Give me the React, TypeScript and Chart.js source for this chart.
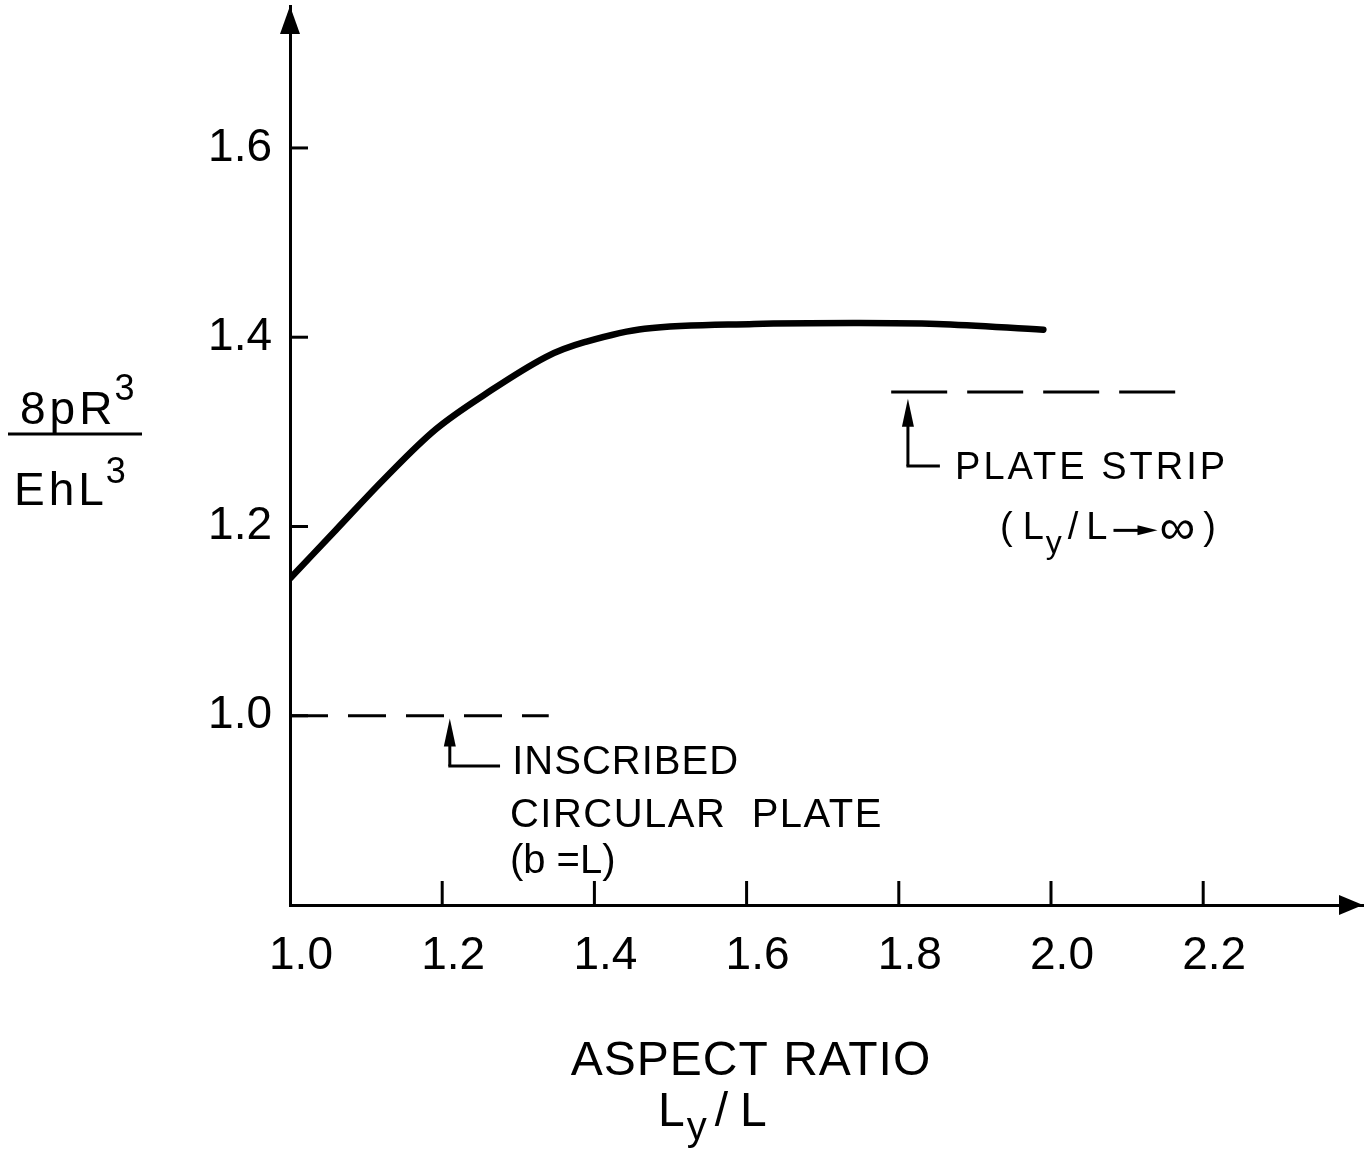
import React, { useEffect, useRef } from 'react';
import { Chart, registerables } from 'chart.js';

Chart.register(...registerables);

// ---- data ----
const curveX = [1.0, 1.06, 1.126, 1.192, 1.257, 1.336, 1.388, 1.466, 1.61, 1.74, 1.85, 1.99];
const curveY = [1.145, 1.196, 1.252, 1.303, 1.34, 1.379, 1.395, 1.409, 1.414, 1.415, 1.414, 1.408];

const stripX = [1.79, 2.165];
const stripY = [1.342, 1.342];

const circleX = [1.0, 1.34];
const circleY = [1.0, 1.0];

const xTicks = [1.0, 1.2, 1.4, 1.6, 1.8, 2.0, 2.2];
const xTickLabels = ['1.0', '1.2', '1.4', '1.6', '1.8', '2.0', '2.2'];
const yTicks = [1.0, 1.2, 1.4, 1.6];
const yTickLabels = ['1.0', '1.2', '1.4', '1.6'];

const X_MIN = 1.0;
const X_MAX = 2.41;
const Y_MIN = 0.8;
const Y_MAX = 1.75;

const FONT = "'Liberation Sans', Arial, 'DejaVu Sans', sans-serif";

const toPts = (xs: number[], ys: number[]) => xs.map((v, i) => ({ x: v, y: ys[i] }));

function arrowHead(ctx: CanvasRenderingContext2D, tipX: number, tipY: number, dir: 'up' | 'right', len: number, half: number) {
  ctx.beginPath();
  if (dir === 'up') {
    ctx.moveTo(tipX, tipY);
    ctx.lineTo(tipX - half, tipY + len);
    ctx.lineTo(tipX + half, tipY + len);
  } else {
    ctx.moveTo(tipX, tipY);
    ctx.lineTo(tipX - len, tipY - half);
    ctx.lineTo(tipX - len, tipY + half);
  }
  ctx.closePath();
  ctx.fill();
}

function line(ctx: CanvasRenderingContext2D, x1: number, y1: number, x2: number, y2: number) {
  ctx.beginPath();
  ctx.moveTo(x1, y1);
  ctx.lineTo(x2, y2);
  ctx.stroke();
}

// draws pieces of text sequentially; returns end x
function runText(ctx: CanvasRenderingContext2D, x: number, y: number, parts: { t: string; size: number; dy?: number; gap?: number }[]) {
  let cx = x;
  for (const p of parts) {
    ctx.font = `${p.size}px ${FONT}`;
    cx += p.gap || 0;
    ctx.fillText(p.t, cx, y + (p.dy || 0));
    cx += ctx.measureText(p.t).width;
  }
  return cx;
}

const annotationPlugin = {
  id: 'annotations',
  afterDraw(chart: any) {
    const { ctx } = chart;
    const xs = chart.scales.x;
    const ys = chart.scales.y;
    const X = (v: number) => xs.getPixelForValue(v);
    const Y = (v: number) => ys.getPixelForValue(v);
    ctx.save();
    ctx.strokeStyle = '#000';
    ctx.fillStyle = '#000';
    ctx.lineCap = 'butt';

    // inner tick marks
    ctx.lineWidth = 3;
    yTicks.forEach((v) => line(ctx, X(X_MIN), Y(v), X(X_MIN) + 18, Y(v)));
    xTicks.slice(1).forEach((v) => line(ctx, X(v), Y(Y_MIN), X(v), Y(Y_MIN) - 24));

    // axis arrows
    arrowHead(ctx, X(X_MIN), Y(Y_MAX), 'up', 28, 10);
    arrowHead(ctx, X(X_MAX), Y(Y_MIN), 'right', 24, 10);

    // plate strip annotation arrow
    ctx.lineWidth = 3;
    const sx = X(1.812);
    line(ctx, sx, Y(1.264), sx, Y(1.335) + 24);
    line(ctx, sx - 1.5, Y(1.264), X(1.854), Y(1.264));
    arrowHead(ctx, sx, Y(1.335), 'up', 28, 6);

    // inscribed circular plate annotation arrow
    const cxp = X(1.21);
    line(ctx, cxp, Y(0.947), cxp, Y(0.997) + 24);
    line(ctx, cxp - 1.5, Y(0.947), X(1.276), Y(0.947));
    arrowHead(ctx, cxp, Y(0.997), 'up', 28, 6);

    ctx.textBaseline = 'middle';
    ctx.textAlign = 'left';

    // PLATE STRIP
    (ctx as any).letterSpacing = '3px';
    ctx.font = `38px ${FONT}`;
    ctx.fillText('PLATE STRIP', X(1.874), Y(1.261));
    // (Ly/L -> inf)
    (ctx as any).letterSpacing = '0px';
    let ex = runText(ctx, X(1.933), Y(1.198), [
      { t: '(', size: 38 },
      { t: 'L', size: 38, gap: 10 },
      { t: 'y', size: 32, dy: 16, gap: 2 },
      { t: '/', size: 38, gap: 6 },
      { t: 'L', size: 38, gap: 8 },
    ]);
    const ay = Y(1.198) + 2;
    ctx.lineWidth = 3;
    line(ctx, ex + 6, ay, ex + 34, ay);
    arrowHead(ctx, ex + 50, ay, 'right', 20, 5);
    ex = runText(ctx, ex + 50, Y(1.198) + 2, [
      { t: '∞', size: 50, gap: 2 },
    ]);
    runText(ctx, ex, Y(1.198), [{ t: ')', size: 38, gap: 8 }]);

    // INSCRIBED CIRCULAR PLATE (b =L)
    (ctx as any).letterSpacing = '1px';
    ctx.font = `40px ${FONT}`;
    ctx.fillText('INSCRIBED', X(1.292), Y(0.95));
    (ctx as any).letterSpacing = '1.5px';
    ctx.fillText('CIRCULAR  PLATE', X(1.289), Y(0.894));
    (ctx as any).letterSpacing = '0px';
    ctx.fillText('(b =L)', X(1.289), Y(0.845));

    // y-axis title as a fraction
    ctx.textBaseline = 'alphabetic';
    runText(ctx, 20, 424, [
      { t: '8', size: 46 },
      { t: 'p', size: 46, gap: 4 },
      { t: 'R', size: 46, gap: 4 },
      { t: '3', size: 36, dy: -24, gap: 2 },
    ]);
    ctx.lineWidth = 3;
    line(ctx, 8, 434, 142, 434);
    runText(ctx, 14, 505, [
      { t: 'E', size: 46 },
      { t: 'h', size: 46, gap: 4 },
      { t: 'L', size: 46, gap: 4 },
      { t: '3', size: 36, dy: -22, gap: 2 },
    ]);

    // x-axis title
    ctx.textAlign = 'center';
    (ctx as any).letterSpacing = '1px';
    ctx.font = `48px ${FONT}`;
    ctx.fillText('ASPECT RATIO', 751, 1075);
    (ctx as any).letterSpacing = '0px';
    ctx.textAlign = 'left';
    runText(ctx, 658, 1126, [
      { t: 'L', size: 48 },
      { t: 'y', size: 40, dy: 14, gap: 2 },
      { t: '/', size: 48, gap: 8 },
      { t: 'L', size: 48, gap: 12 },
    ]);

    ctx.restore();
  },
};

export default function App() {
  const canvasRef = useRef<HTMLCanvasElement | null>(null);

  useEffect(() => {
    const canvas = canvasRef.current;
    if (!canvas) return;
    const chart = new Chart(canvas, {
      type: 'line',
      data: {
        datasets: [
          {
            data: toPts(curveX, curveY),
            borderColor: '#000',
            borderWidth: 6.5,
            pointRadius: 0,
            fill: false,
            tension: 0.35,
            borderCapStyle: 'round',
          },
          {
            data: toPts(stripX, stripY),
            borderColor: '#000',
            borderWidth: 3,
            pointRadius: 0,
            fill: false,
            borderDash: [56, 20],
          },
          {
            data: toPts(circleX, circleY),
            borderColor: '#000',
            borderWidth: 3,
            pointRadius: 0,
            fill: false,
            borderDash: [38, 20],
          },
        ],
      },
      options: {
        responsive: false,
        animation: false,
        events: [],
        layout: { padding: { top: 6, right: 8, left: 0, bottom: 0 } },
        plugins: { legend: { display: false }, tooltip: { enabled: false } },
        scales: {
          x: {
            type: 'linear',
            min: X_MIN,
            max: X_MAX,
            afterBuildTicks: (s: any) => {
              s.ticks = xTicks.map((v) => ({ value: v }));
            },
            afterFit: (s: any) => {
              s.height = 252;
              s.paddingLeft = 0;
              s.paddingRight = 0;
            },
            ticks: {
              callback: (v: any) => xTickLabels[xTicks.indexOf(Number(v))] ?? '',
              font: { family: FONT, size: 46 },
              color: '#000',
              padding: 24,
              labelOffset: 11,
              maxRotation: 0,
              autoSkip: false,
            },
            grid: { display: false, drawTicks: false },
            border: { display: true, color: '#000', width: 3 },
          },
          y: {
            type: 'linear',
            min: Y_MIN,
            max: Y_MAX,
            afterBuildTicks: (s: any) => {
              s.ticks = yTicks.map((v) => ({ value: v }));
            },
            afterFit: (s: any) => {
              s.width = 290;
              s.paddingTop = 0;
              s.paddingBottom = 0;
            },
            ticks: {
              callback: (v: any) => yTickLabels[yTicks.indexOf(Number(v))] ?? '',
              font: { family: FONT, size: 46 },
              color: '#000',
              padding: 18,
              autoSkip: false,
            },
            grid: { display: false, drawTicks: false },
            border: { display: true, color: '#000', width: 3 },
          },
        },
      },
      plugins: [annotationPlugin],
    } as any);
    return () => chart.destroy();
  }, []);

  return (
    <div style={{ position: 'absolute', left: 0, top: 0, width: 1371, height: 1157, background: '#fff' }}>
      <canvas ref={canvasRef} width={1371} height={1157} style={{ display: 'block' }} />
    </div>
  );
}
